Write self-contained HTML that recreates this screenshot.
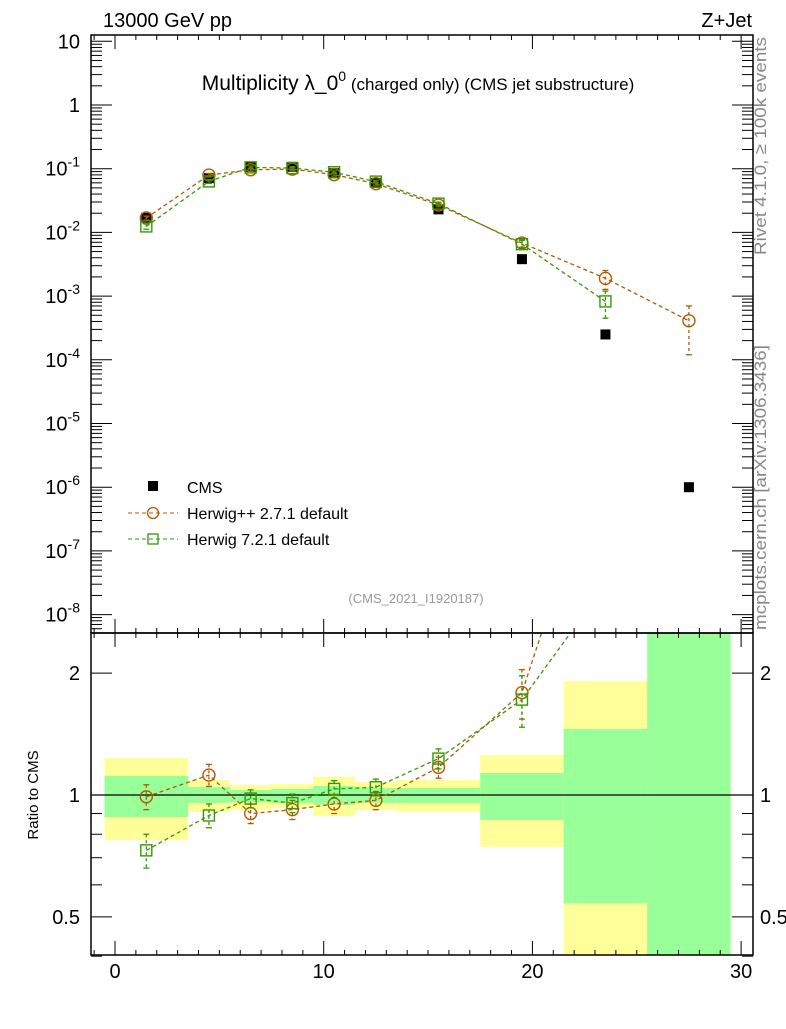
<!DOCTYPE html>
<html><head><meta charset="utf-8"><style>
body{margin:0;background:#fff;font-family:"Liberation Sans",sans-serif}
svg text{font-family:"Liberation Sans",sans-serif}
</style></head><body>
<svg id="c" width="786" height="1024" viewBox="0 0 786 1024" xmlns="http://www.w3.org/2000/svg">
<text x="103" y="27" font-size="20">13000 GeV pp</text>
<text x="752" y="27" font-size="20" text-anchor="end">Z+Jet</text>
<text x="418" y="90" font-size="21" text-anchor="middle">Multiplicity λ_0<tspan dy="-9" font-size="14">0</tspan><tspan dy="9" font-size="17"> (charged only) (CMS jet substructure)</tspan></text>
<text x="416" y="603" font-size="13" fill="#999" text-anchor="middle">(CMS_2021_I1920187)</text>
<text transform="translate(766,255) rotate(-90)" font-size="17" fill="#888" textLength="218" lengthAdjust="spacingAndGlyphs">Rivet 4.1.0, ≥ 100k events</text>
<text transform="translate(766,630) rotate(-90)" font-size="17" fill="#888" textLength="285" lengthAdjust="spacingAndGlyphs">mcplots.cern.ch [arXiv:1306.3436]</text>
<text transform="translate(38,795) rotate(-90)" font-size="15" text-anchor="middle">Ratio to CMS</text>
<g id="bands"></g><g id="main"></g><g id="ratio"></g><g id="axes"></g>
<g>
<rect x="148" y="481" width="10" height="10" fill="#000"/>
<text x="187" y="493" font-size="16">CMS</text>
<line x1="128" y1="513" x2="178" y2="513" stroke="#b35900" stroke-dasharray="4,3"/>
<circle cx="153" cy="513" r="5.5" fill="none" stroke="#b35900" stroke-width="1.3"/>
<text x="187" y="519" font-size="16">Herwig++ 2.7.1 default</text>
<line x1="128" y1="539" x2="178" y2="539" stroke="#339900" stroke-dasharray="4,3"/>
<rect x="148" y="534" width="10" height="10" fill="none" stroke="#339900" stroke-width="1.3"/>
<text x="187" y="545" font-size="16">Herwig 7.2.1 default</text>
</g>
</svg>
<script>
const binEdges=[-0.5,3.5,5.5,7.5,9.5,11.5,13.5,17.5,21.5,25.5,29.5];
const xCenters=[1.5,4.5,6.5,8.5,10.5,12.5,15.5,19.5,23.5,27.5];
const cms=[0.017,0.071,0.107,0.107,0.085,0.06,0.023,0.0038,0.00025,0.000001];
const hppRatio=[0.99,1.12,0.90,0.92,0.95,0.97,1.17,1.79,7.6,410];
const hppErr=[0.07,0.07,0.05,0.05,0.05,0.05,0.07,0.25,2.5,290];
const h7Ratio=[0.73,0.89,0.98,0.955,1.035,1.045,1.23,1.72,3.3,null];
const h7Err=[0.07,0.06,0.05,0.05,0.05,0.05,0.07,0.25,1.5,null];
const yelUp=[1.234,1.089,1.058,1.065,1.108,1.077,1.089,1.255,1.91,4];
const yelDn=[0.774,0.908,0.918,0.929,0.887,0.918,0.908,0.744,0.30,0.2];
const grnUp=[1.114,1.046,1.029,1.035,1.053,1.041,1.041,1.133,1.455,3];
const grnDn=[0.882,0.955,0.961,0.955,0.945,0.955,0.955,0.868,0.54,0.3];
const mainTicks=["10","1","10^-1","10^-2","10^-3","10^-4","10^-5","10^-6","10^-7","10^-8"];
const xTicks=[0,10,20,30];
const ratioTicks=[0.5,1,2];

const NS="http://www.w3.org/2000/svg";
const L=91,R=753,T=35,MB=633,B=955;
const X=v=>115+20.87*v;
const YM=v=>105-63.7*Math.log10(v);
const YR=v=>795-405*Math.log10(v);
function mk(p,tag,a){const e=document.createElementNS(NS,tag);for(const k in a)e.setAttribute(k,a[k]);p.appendChild(e);return e;}
const G=id=>document.getElementById(id);
const defs=mk(G('c'),'defs',{});
const cp1=mk(defs,'clipPath',{id:'cm'});mk(cp1,'rect',{x:L,y:T,width:R-L,height:MB-T});
const cp2=mk(defs,'clipPath',{id:'cr'});mk(cp2,'rect',{x:L,y:MB,width:R-L,height:B-MB});
const bands=G('bands');bands.setAttribute('clip-path','url(#cr)');
for(let i=0;i<xCenters.length;i++){
  const x0=X(binEdges[i]),x1=X(binEdges[i+1]);
  let e=mk(bands,'rect',{x:x0,y:YR(yelUp[i]),width:x1-x0,height:YR(yelDn[i])-YR(yelUp[i]),fill:'#ffff99'});
  
  
  e=mk(bands,'rect',{x:x0,y:YR(grnUp[i]),width:x1-x0,height:YR(grnDn[i])-YR(grnUp[i]),fill:'#99ff99'});
  
  
}
const main=G('main');main.setAttribute('clip-path','url(#cm)');
const ratio=G('ratio');ratio.setAttribute('clip-path','url(#cr)');
mk(ratio,'line',{x1:L,x2:R,y1:YR(1),y2:YR(1),stroke:'#000','stroke-width':1.2});
function series(g,vals,errs,color,shape,Y,name,maxV){
  const pts=[];
  vals.forEach((v,i)=>{if(v!=null)pts.push([X(xCenters[i]),Y(v),i]);});
  let pl=mk(g,'polyline',{points:pts.map(p=>p[0]+','+p[1]).join(' '),fill:'none',stroke:color,'stroke-dasharray':'4,3','stroke-width':1.3});
  
  
  pts.forEach(p=>{
    const i=p[2],v=vals[i],e=errs[i];
    if(maxV && v>maxV) return;
    const y1=Y(v+e),y2=Y(Math.max(v-e,1e-12));
    mk(g,'line',{x1:p[0],x2:p[0],y1:y1,y2:y2,stroke:color,'stroke-dasharray':'3,3','stroke-width':1.3});
    mk(g,'line',{x1:p[0]-3,x2:p[0]+3,y1:y1,y2:y1,stroke:color,'stroke-width':1.3});
    mk(g,'line',{x1:p[0]-3,x2:p[0]+3,y1:y2,y2:y2,stroke:color,'stroke-width':1.3});
    let m=shape==='c'?mk(g,'circle',{cx:p[0],cy:p[1],r:6,fill:'none',stroke:color,'stroke-width':1.4}):
      mk(g,'rect',{x:p[0]-5.5,y:p[1]-5.5,width:11,height:11,fill:'none',stroke:color,'stroke-width':1.4});
    
    
  });
}
cms.forEach((v,i)=>{const e=mk(main,'rect',{x:X(xCenters[i])-5,y:YM(v)-5,width:10,height:10,fill:'#000'});
  
  });
const hppMain=cms.map((c,i)=>c*hppRatio[i]),hppMainE=cms.map((c,i)=>c*hppErr[i]);
const h7Main=cms.map((c,i)=>h7Ratio[i]==null?null:c*h7Ratio[i]),h7MainE=cms.map((c,i)=>h7Err[i]==null?null:c*h7Err[i]);
series(main,hppMain,hppMainE,'#b35900','c',YM,'herwigpp');
series(main,h7Main,h7MainE,'#339900','s',YM,'herwig7');
series(ratio,hppRatio,hppErr,'#b35900','c',YR,'herwigpp-ratio',2.5);
series(ratio,h7Ratio,h7Err,'#339900','s',YR,'herwig7-ratio',2.5);
const ax=G('axes');
mk(ax,'rect',{x:L,y:T,width:R-L,height:MB-T,fill:'none',stroke:'#000','stroke-width':1.5});
mk(ax,'rect',{x:L,y:MB,width:R-L,height:B-MB,fill:'none',stroke:'#000','stroke-width':1.5});
for(let d=-9;d<=1;d++)for(let k=1;k<10;k++){
  const y=YM(k*Math.pow(10,d));if(y<T||y>MB)continue;const len=k===1?21:11;
  mk(ax,'line',{x1:L,x2:L+len,y1:y,y2:y,stroke:'#000'});mk(ax,'line',{x1:R,x2:R-len,y1:y,y2:y,stroke:'#000'});
}
mainTicks.forEach((t,i)=>{const y=YM(Math.pow(10,1-i));
  const tx=mk(ax,'text',{x:80,y:y+7,'font-size':20,'text-anchor':'end'});
  
  
  const p=t.split('^');tx.textContent=p[0];
  if(p[1]){const ts=mk(tx,'tspan',{dy:-9,'font-size':14});ts.textContent=p[1];}
});
for(let v=-1;v<=31;v++){const x=X(v);if(x<L||x>R)continue;const len=v%10===0?14:5;
  mk(ax,'line',{x1:x,x2:x,y1:B,y2:B-len,stroke:'#000'});mk(ax,'line',{x1:x,x2:x,y1:MB,y2:MB+len,stroke:'#000'});
  mk(ax,'line',{x1:x,x2:x,y1:T,y2:T+len,stroke:'#000'});mk(ax,'line',{x1:x,x2:x,y1:MB,y2:MB-len,stroke:'#000'});}
xTicks.forEach(v=>{const t=mk(ax,'text',{x:X(v),y:978,'font-size':20,'text-anchor':'middle'});t.textContent=v;
  
  });
[0.4,0.5,0.6,0.7,0.8,0.9,1,2].forEach(v=>{const y=YR(v);const len=(v===0.5||v===1||v===2)?21:11;
  mk(ax,'line',{x1:L,x2:L+len,y1:y,y2:y,stroke:'#000'});mk(ax,'line',{x1:R,x2:R-len,y1:y,y2:y,stroke:'#000'});});
ratioTicks.forEach(v=>{const y=YR(v)+7;
  let t=mk(ax,'text',{x:80,y:y,'font-size':20,'text-anchor':'end'});t.textContent=v;
  
  
  t=mk(ax,'text',{x:760,y:y,'font-size':20});t.textContent=v;
  
  });
</script>
</body></html>
